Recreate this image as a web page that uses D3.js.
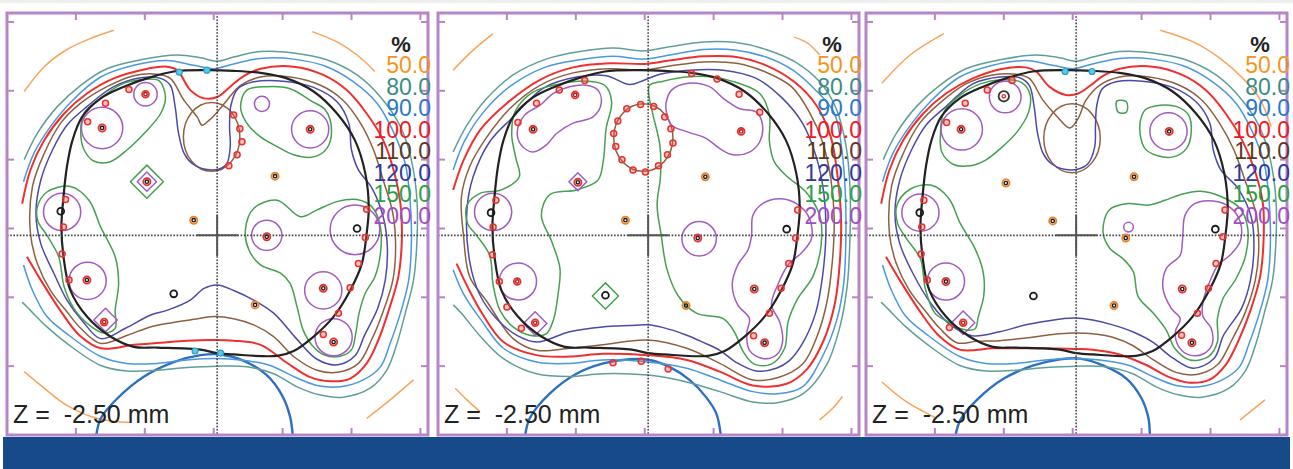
<!DOCTYPE html>
<html lang="en">
<head>
  <meta charset="UTF-8">
  <title>Isodose distributions, Z = -2.50 mm</title>
  <style>
    body { margin: 0; background: #fff; }
    svg { display: block; font-family: "Liberation Sans", Arial, sans-serif; }
    .c { fill: none; stroke-width: 1.5; stroke-linejoin: round; }
    .iso50 { stroke: #f7a55a; }
    .iso80 { stroke: #5f9f99; }
    .iso90 { stroke: #4a98de; }
    .iso100 { stroke: #ee3030; stroke-width: 2; }
    .iso110 { stroke: #8e6040; }
    .iso120 { stroke: #4c4aa6; }
    .iso150 { stroke: #45a050; }
    .iso200 { stroke: #a25cbf; }
    .target { stroke: #222; stroke-width: 2.2; }
    .rectum { stroke: #2d70c0; stroke-width: 2.4; }
    .frame { fill: none; stroke: #b884c8; stroke-width: 3; }
    .tick { stroke: #b884c8; stroke-width: 2; }
    .dotted { stroke: #444; stroke-width: 1.6; stroke-dasharray: 1.6 1.6; }
    .cross { stroke: #555; stroke-width: 2; }
    .ztext { font-size: 25px; fill: #222; white-space: pre; }
    .legend { font-size: 23px; text-anchor: end; }
  </style>
</head>
<body>
<svg id="chart" width="1293" height="469"></svg>

<script src="https://cdn.jsdelivr.net/npm/d3@7"></script>
<script>
// all coordinates in mm (ticks every 10 mm), y up
const xTicks = [-20, -10, 0, 10, 20, 30];
const yTicks = [30, 20, 10, 0, -10, -20];
const isocenter = [0.5, -1.0];
const levels = ["50.0", "80.0", "90.0", "100.0", "110.0", "120.0", "150.0", "200.0"];
const levelColors = ["#f7941d", "#3a8c84", "#2b78cc", "#ed1c24", "#5c3a1e", "#2e3a9e", "#2aa048", "#a04fc0"];
const sliceLabel = "Z =  -2.50 mm";

// target outline (same in all three plans)
const target = [[-5.8,22.8],[-1.0,23.0],[2.9,22.9],[6.8,22.6],[10.6,21.8],[14.5,19.9],[17.9,16.7],[20.5,12.8],[22.0,8.0],[22.5,3.1],[22.2,-0.7],[21.5,-5.1],[19.8,-9.0],[17.4,-12.8],[14.5,-15.7],[11.6,-17.8],[9.2,-18.5],[2.9,-18.3],[0.5,-18.1],[-1.9,-17.6],[-8.2,-17.3],[-11.6,-17.2],[-15.0,-15.7],[-18.4,-12.8],[-20.8,-9.0],[-21.8,-4.1],[-22.1,0.2],[-21.8,4.6],[-21.3,9.0],[-20.5,12.8],[-19.1,16.2],[-16.4,18.9],[-13.0,20.6],[-9.7,21.8]];

// ---------- plan 1 ----------
const p1Teal = [[-27.5,10.0],[-25.6,13.8],[-22.7,17.7],[-19.3,20.8],[-15.5,23.2],[-10.6,24.5],[-5.3,25.2],[-1.9,24.8],[0.5,24.3],[2.9,24.9],[6.8,25.7],[11.6,25.5],[16.4,24.5],[20.8,22.3],[24.2,19.1],[27.1,14.8],[28.7,9.9],[29.5,4.1],[29.5,-1.7],[29.0,-7.5],[27.8,-12.3],[26.6,-16.7],[25.1,-20.6],[22.7,-23.2],[18.8,-24.5],[15.5,-24.2],[12.1,-23.0],[8.7,-21.1],[4.8,-20.1],[0.5,-20.0],[-3.9,-20.2],[-8.2,-20.6],[-12.6,-20.7],[-16.4,-19.9],[-21.3,-16.7],[-24.2,-14.3],[-26.6,-11.9],[-27.8,-10.7]];
const p1Blue = [[-27.6,6.8],[-26.1,10.9],[-23.7,14.8],[-20.5,18.6],[-16.4,22.0],[-11.6,23.7],[-6.8,24.4],[-2.9,23.7],[0,23.2],[2.9,23.9],[6.8,24.7],[11.6,24.6],[16.4,23.5],[20.3,21.3],[23.7,18.2],[26.1,14.0],[27.8,9.4],[28.5,4.1],[28.7,-1.7],[28.3,-7.5],[27.1,-12.3],[25.6,-16.7],[24.2,-20.1],[21.7,-22.0],[18.4,-23.0],[15.0,-22.8],[11.6,-21.5],[8.2,-19.9],[3.9,-19.1],[0.5,-18.9],[-3.9,-19.1],[-8.2,-19.6],[-12.6,-19.6],[-16.4,-18.6],[-21.3,-15.3],[-24.2,-12.8],[-26.3,-9.0],[-27.6,-5.3]];
const p1Red = [[-27.8,3.6],[-26.6,8.5],[-24.6,12.8],[-21.7,16.7],[-18.4,19.6],[-14.5,21.8],[-10.1,23.1],[-6.8,23.5],[-5.3,23.0],[-3.4,20.1],[-1.4,18.9],[0.5,19.1],[2.4,20.6],[4.3,22.1],[6.8,23.2],[11.6,23.5],[15.9,22.3],[19.3,20.1],[22.2,16.7],[24.6,12.8],[26.1,8.5],[27.1,3.6],[27.3,-1.7],[26.8,-7.0],[25.4,-11.9],[23.9,-16.2],[22.2,-19.6],[19.8,-21.8],[16.9,-22.2],[14.0,-21.6],[10.6,-19.5],[6.8,-16.9],[2.9,-16.3],[0,-16.2],[-3.9,-16.3],[-7.7,-16.6],[-11.6,-16.9],[-16.4,-17.4],[-19.5,-15.5],[-22.2,-12.0],[-25.1,-7.5],[-27.1,-4.1]];
const p1Brown = [[-26.3,6.1],[-24.6,10.9],[-22.2,15.3],[-19.3,18.2],[-15.5,20.6],[-11.6,22.2],[-8.2,22.4],[-6.3,21.8],[-4.3,18.6],[-2.4,16.2],[-1.7,15.0],[-0.7,15.7],[0.5,16.9],[1.9,18.6],[3.9,20.8],[6.8,22.0],[11.1,22.0],[15.5,20.8],[18.8,18.6],[21.3,15.3],[23.2,11.4],[24.6,7.0],[26.0,2.2],[26.4,-2.7],[26.0,-7.5],[24.5,-12.3],[22.9,-16.2],[21.0,-19.6],[18.0,-20.9],[15.0,-20.6],[11.6,-18.6],[8.7,-15.7],[5.8,-14.0],[2.9,-13.1],[0,-12.8],[-2.9,-13.2],[-6.8,-13.8],[-9.2,-14.3],[-12.5,-15.5],[-16.4,-16.7],[-19.3,-14.5],[-21.3,-12.1],[-23.7,-9.0],[-25.6,-5.1],[-26.6,-0.7]];
const p1Indigo = [[-25.8,2.2],[-25.1,7.0],[-23.4,11.4],[-21.3,15.0],[-18.4,17.7],[-14.5,20.6],[-10.6,21.9],[-7.7,21.8],[-6.3,20.8],[-5.6,17.7],[-5.1,13.8],[-4.3,10.9],[-3.1,9.4],[-1.2,8.6],[0.7,8.6],[1.9,9.4],[2.4,11.9],[2.3,14.8],[2.5,17.9],[3.5,20.3],[5.8,21.3],[10.1,21.4],[14.5,20.5],[17.9,18.4],[19.6,15.3],[20.0,11.4],[21.0,8.5],[23.0,5.8],[24.6,1.7],[25.2,-2.7],[24.9,-7.5],[23.8,-11.6],[21.9,-15.5],[20.5,-18.5],[18.0,-19.8],[15.0,-19.0],[12.0,-16.0],[8.7,-12.3],[5.8,-10.4],[2.9,-9.0],[0.5,-8.2],[-1.4,-8.7],[-3.4,-10.4],[-6.8,-11.9],[-9.2,-12.6],[-12.8,-14.5],[-16.4,-16.0],[-19.0,-13.5],[-21.3,-10.4],[-23.2,-6.5],[-25.1,-2.2]];
const p1Green = [
  [[-19.3,13.8],[-18.8,16.8],[-16.4,18.9],[-13.5,20.9],[-10.6,21.6],[-8.0,21.5],[-7.0,19.1],[-7.7,16.7],[-10.1,13.8],[-12.6,11.4],[-15.0,9.7],[-17.4,9.8],[-18.8,11.4]],
  [[3.9,17.7],[4.8,20.1],[7.7,20.6],[11.1,20.3],[14.0,18.6],[16.2,17.2],[17.1,14.3],[16.4,11.6],[14.5,10.4],[11.6,10.7],[9.2,11.9],[6.8,13.3],[4.8,15.3]],
  [[-25.6,3.1],[-24.2,5.3],[-20.8,6.1],[-18.1,4.1],[-16.4,0.2],[-14.3,-4.1],[-13.8,-8.0],[-14.3,-11.9],[-14.3,-14.5],[-15.9,-15.2],[-18.1,-14.0],[-20.3,-11.6],[-21.7,-8.5],[-22.5,-4.1],[-24.2,-1.0],[-25.5,1.0]],
  [[4.6,-0.2],[5.8,2.9],[9.2,4.1],[12.6,1.7],[15.0,2.7],[17.9,3.9],[20.8,4.2],[23.0,3.1],[24.2,0.2],[24.2,-3.6],[23.4,-7.0],[22.0,-9.4],[21.1,-12.3],[20.6,-15.3],[20.0,-17.6],[18.2,-18.6],[15.9,-18.3],[14.3,-17.0],[13.0,-14.8],[12.1,-11.4],[11.1,-8.0],[9.7,-6.5],[6.8,-5.3],[5.1,-3.1]]
];
const p1GreenDiamonds = [[-9.7,6.8,2.4]];
const p1Purple = [];
const p1PurpleRings = [[-9.9,19.5,1.7],[-16.2,14.6,3.0],[7.0,18.1,1.1],[14.0,14.4,2.7],[-22.0,2.4,2.7],[7.7,-1.0,2.2],[20.5,-0.2,3.6],[-18.3,-7.6,2.7],[15.9,-9.0,2.7],[17.4,-15.8,2.7]];
const p1PurpleDiamonds = [[-9.7,6.8,1.4],[-15.7,-13.3,1.7]];
const p1Urethra = [-0.3, 13.3, 4.1, 5.0];
const p1Orange = [
  [[-27.5,19.9],[-24.6,23.5],[-21.3,26.0],[-17.9,27.6],[-14.5,28.8]],
  [[14.3,28.6],[17.9,27.1],[20.8,25.2],[23.4,22.8]],
  [[-27.5,-20.8],[-24.6,-23.2],[-21.3,-25.7],[-16.9,-27.6],[-12.1,-28.2]],
  [[22.2,-27.6],[25.6,-24.9],[29.0,-22.0]]
];
const p1Rectum = [[-17.1,-30.5],[-16.4,-27.6],[-14.0,-24.7],[-10.1,-21.5],[-5.8,-19.4],[-1.9,-18.4],[1.0,-18.3],[4.3,-19.2],[7.7,-21.3],[9.9,-24.2],[11.1,-27.4],[11.5,-30.5]];
const p1Seeds = [[-9.9,19.5,"r"],[-16.2,14.6,"kr"],[14.0,14.4,"kr"],[-9.7,6.8,"kr"],[8.9,7.6,"ok"],[-2.9,1.2,"ok"],[-22.2,2.5,"k"],[7.7,-1.2,"kr"],[20.8,0,"k"],[-18.4,-7.5,"kr"],[-5.8,-9.5,"k"],[6.0,-11.1,"ok"],[15.9,-8.7,"kr"],[-15.9,-13.6,"r"],[17.4,-16.5,"kr"]];
const p1Dots = [[-12.3,20.2],[-15.7,18.2],[-18.3,15.5],[-21.5,4.2],[-21.8,0.2],[-22.0,-3.7],[-21.0,-7.5],[22.2,2.8],[22.0,-1.3],[21.0,-5.1],[19.8,-8.6],[18.1,-12.3],[15.9,-15.4],[2.9,16.5],[3.8,14.5],[4.1,12.6],[3.4,10.7],[2.2,9.1]];
const p1Cyan = [[-5.0,22.7],[-1.0,23.0],[-2.7,-17.8],[1.0,-18.1]];

// ---------- plan 2 ----------
const p2Teal = [[-27.8,11.1],[-25.8,15.0],[-22.9,18.9],[-19.1,22.3],[-14.3,24.6],[-9.4,25.7],[-4.6,26.2],[-0.2,25.8],[3.6,26.4],[8.5,27.1],[13.3,27.0],[17.6,26.0],[22.0,24.1],[25.4,21.3],[27.8,17.4],[29.2,12.1],[29.8,5.8],[29.8,-1.0],[29.4,-8.2],[28.4,-14.0],[26.4,-19.8],[23.0,-24.0],[19.3,-25.3],[15.7,-25.2],[10.9,-23.7],[6.1,-22.3],[0.4,-21.3],[-6.1,-21.1],[-10.9,-21.5],[-15.7,-21.1],[-20.5,-18.9],[-24.0,-15.5],[-26.6,-12.3],[-27.8,-11.1]];
const p2Blue = [[-27.8,8.5],[-26.1,12.8],[-23.4,16.9],[-19.6,20.6],[-14.5,23.4],[-9.4,24.5],[-4.6,25.0],[-0.2,24.6],[3.6,25.2],[8.5,26.0],[13.3,25.9],[17.6,24.9],[21.5,23.0],[24.6,20.3],[27.5,16.8],[28.6,11.5],[29.1,5.5],[29.2,-1.0],[28.9,-7.8],[27.9,-13.2],[25.8,-18.6],[22.9,-23.0],[19.3,-24.0],[15.7,-23.7],[10.9,-22.0],[6.1,-20.3],[0.4,-19.4],[-6.1,-19.1],[-10.9,-19.6],[-15.7,-19.4],[-20.5,-17.4],[-23.6,-13.5],[-26.3,-9.5],[-27.8,-6.0]];
const p2Red = [[-27.8,5.6],[-26.3,9.9],[-23.9,14.3],[-20.0,18.2],[-15.2,21.6],[-10.4,23.4],[-5.1,24.0],[0,23.9],[3.6,24.4],[8.5,25.0],[13.3,24.9],[17.6,23.7],[21.7,21.3],[24.9,17.9],[27.0,13.3],[28.0,7.5],[28.5,1.2],[28.3,-5.1],[27.6,-10.9],[26.0,-16.2],[23.5,-20.5],[20.5,-22.6],[15.7,-22.8],[10.9,-20.8],[6.1,-19.1],[0.4,-18.4],[-6.1,-18.2],[-10.9,-18.6],[-15.7,-18.4],[-20.5,-16.5],[-23.5,-12.5],[-25.6,-8.7],[-27.3,-5.1]];
const p2Brown = [[-26.6,4.6],[-25.4,9.0],[-22.9,13.3],[-19.6,17.4],[-15.2,20.8],[-10.4,22.6],[-5.1,23.2],[0,23.0],[3.6,23.6],[8.5,24.2],[13.3,24.0],[17.6,22.7],[21.3,20.6],[23.9,16.9],[25.8,12.6],[27.0,7.3],[27.5,1.5],[27.2,-5.1],[26.4,-10.9],[25.0,-15.7],[23.0,-19.6],[19.5,-21.6],[15.7,-22.0],[10.9,-19.6],[6.1,-17.4],[0.4,-16.2],[-6.1,-16.9],[-10.9,-17.4],[-15.7,-17.7],[-19.1,-16.0],[-22.9,-10.6],[-25.4,-7.0],[-26.3,-1.0]];
const p2Indigo = [[-25.8,2.7],[-24.9,7.5],[-22.5,12.6],[-19.1,16.2],[-14.7,20.4],[-9.9,22.0],[-5.6,22.2],[-2.2,20.9],[-0.2,21.5],[2.2,22.4],[6.5,23.0],[11.4,23.0],[16.2,21.8],[20.0,18.9],[22.9,15.3],[24.9,10.4],[26.0,5.1],[26.3,-0.5],[25.8,-7.0],[24.8,-12.3],[22.9,-16.7],[21.0,-19.2],[19.1,-20.3],[16.2,-20.7],[13.2,-19.4],[10.9,-17.7],[8.4,-16.5],[6.1,-15.5],[2.7,-14.4],[0.4,-14.0],[-2.2,-14.1],[-6.1,-14.3],[-10.9,-15.0],[-15.7,-16.5],[-18.6,-15.5],[-21.5,-13.1],[-23.9,-9.7],[-25.4,-4.8]];
const p2Green = [
  [[-25.8,3.4],[-23.9,5.1],[-20.8,5.6],[-18.2,7.5],[-18.7,10.2],[-19.3,13.6],[-18.8,17.0],[-16.2,19.8],[-12.3,21.0],[-8.5,21.4],[-5.8,20.8],[-4.8,18.4],[-5.6,14.5],[-6.0,9.9],[-6.8,7.0],[-9.9,5.6],[-13.8,4.9],[-15.0,1.9],[-13.5,-1.9],[-12.3,-5.8],[-12.6,-9.7],[-13.2,-13.1],[-14.3,-15.3],[-16.7,-15.5],[-19.1,-14.3],[-21.0,-11.9],[-22.0,-8.2],[-22.5,-3.9],[-24.4,-1.0],[-25.7,0.7]],
  [[0.7,20.8],[2.7,21.4],[6.0,22.0],[9.9,22.0],[13.3,21.2],[16.7,19.6],[18.1,16.5],[18.1,12.6],[18.8,9.7],[20.5,7.7],[23.4,5.3],[25.4,1.9],[25.6,-2.4],[24.4,-7.0],[22.2,-10.2],[20.8,-13.6],[20.3,-17.4],[18.4,-19.7],[15.9,-19.7],[14.3,-17.9],[13.0,-15.0],[11.4,-13.1],[7.5,-12.3],[4.8,-9.7],[3.2,-5.8],[2.4,-1.0],[1.8,3.4],[2.3,7.7],[2.2,12.1],[1.2,16.5],[0.6,19.4]]
];
const p2GreenDiamonds = [[-5.7,-9.8,1.9]];
const p2Purple = [
  [[-18.5,14.0],[-17.4,16.5],[-15.2,17.9],[-13.3,19.6],[-10.9,20.6],[-8.5,20.8],[-6.8,20.1],[-6.3,18.2],[-7.5,16.2],[-10.4,15.3],[-12.8,13.8],[-14.3,12.1],[-16.2,11.1],[-17.9,12.1]],
  [[3.1,18.2],[3.9,20.1],[6.3,21.1],[9.4,20.6],[11.4,18.9],[13.8,17.4],[16.2,16.9],[17.1,15.0],[16.7,12.6],[15.2,11.1],[12.8,10.7],[10.9,11.6],[8.9,13.1],[6.3,14.0],[3.9,15.0],[3.2,16.7]],
  [[15.5,-1.0],[15.7,1.9],[17.1,3.6],[19.6,4.3],[22.0,3.6],[23.9,1.5],[24.2,-1.5],[22.9,-3.4],[20.8,-5.3],[19.3,-8.2],[18.4,-11.1],[19.6,-13.6],[20.0,-16.5],[19.1,-18.4],[17.1,-18.9],[15.2,-17.7],[14.8,-15.3],[15.2,-13.1],[13.5,-11.1],[12.7,-8.2],[13.5,-5.3],[15.0,-3.1]]
];
const p2PurpleRings = [[-22.0,2.4,2.7],[7.9,-1.5,2.5],[-18.4,-7.7,2.7]];
const p2PurpleDiamonds = [[-9.7,6.8,1.3],[-15.9,-13.8,1.7]];
const p2Urethra = [-0.2, 13.2, 4.3, 4.9];
const p2Orange = [
  [[-27.8,23.0],[-24.9,25.9],[-22.0,28.3]],
  [[21.7,27.8],[23.7,26.9],[25.4,25.2]],
  [[-27.5,-23.2],[-25.8,-24.9],[-23.9,-26.6]],
  [[25.4,-27.8],[27.2,-26.2],[28.7,-24.4]]
];
const p2Rectum = [[-17.4,-30.5],[-16.7,-27.6],[-13.8,-24.0],[-9.9,-21.1],[-6.0,-19.6],[-2.2,-19.0],[0.7,-19.1],[3.6,-20.1],[6.5,-22.0],[8.9,-24.5],[10.4,-26.9],[11.1,-30.5]];
const p2Seeds = [[-10.1,19.4,"r"],[-16.2,14.4,"kr"],[14.0,14.1,"r"],[-9.7,6.7,"kr"],[8.8,7.5,"ok"],[-2.8,1.2,"ok"],[-22.3,2.3,"k"],[7.7,-1.4,"kr"],[20.6,-0.1,"k"],[-18.5,-7.7,"r"],[-5.7,-9.7,"k"],[6.0,-11.2,"ok"],[15.9,-8.8,"kr"],[-15.9,-13.7,"r"],[17.4,-16.6,"kr"]];
const p2Dots = [[-8.7,21.5],[-12.4,20.1],[-15.7,18.2],[-18.4,15.4],[-21.6,4.1],[-22.0,0.2],[-22.1,-3.8],[-21.1,-7.7],[-20.0,-11.4],[-17.9,-14.5],[6.8,22.5],[10.5,21.7],[13.7,19.5],[16.7,16.9],[22.2,2.7],[21.9,-1.4],[20.9,-5.1],[19.8,-8.7],[18.1,-12.3],[15.8,-15.6],[-4.6,-19.5],[-0.5,-19.3],[3.4,-20.4],
  [-2.6,17.4],[-0.6,18.0],[1.3,17.7],[2.9,16.2],[3.8,14.5],[4.1,12.4],[3.3,10.7],[2.0,9.1],[0.1,8.2],[-1.7,8.5],[-3.3,10.0],[-4.2,11.9],[-4.5,13.8],[-3.9,15.6]];
const p2Cyan = [];

// ---------- plan 3 ----------
const p3Red = [[-27.8,3.6],[-26.6,8.5],[-24.6,12.8],[-21.7,16.7],[-18.4,19.6],[-14.5,21.8],[-10.1,23.2],[-6.8,23.4],[-5.3,22.8],[-3.4,20.6],[-1.0,19.4],[0.8,19.6],[2.6,20.8],[4.3,22.1],[6.8,23.2],[11.6,23.5],[15.9,22.3],[19.3,20.1],[22.2,16.7],[24.6,12.8],[26.4,8.5],[27.6,3.6],[27.7,-1.7],[27.2,-7.0],[25.8,-11.9],[24.1,-16.2],[22.2,-19.8],[19.8,-22.0],[16.9,-22.4],[14.0,-21.6],[10.6,-19.8],[6.8,-18.3],[2.9,-17.6],[0,-17.5],[-3.9,-17.4],[-7.7,-17.4],[-11.6,-17.4],[-16.4,-17.6],[-19.5,-15.5],[-22.2,-12.0],[-25.1,-7.5],[-27.1,-4.1]];
const p3Brown = [[-26.3,6.1],[-24.6,10.9],[-22.2,15.3],[-19.3,18.2],[-15.5,21.0],[-11.6,22.3],[-8.2,22.4],[-6.3,21.8],[-4.3,18.6],[-2.4,16.4],[-0.4,14.6],[0.8,16.0],[1.9,18.6],[3.9,20.8],[6.8,22.0],[11.1,22.0],[15.5,20.8],[18.8,18.6],[21.3,15.3],[23.4,11.4],[25.0,7.0],[26.6,2.2],[27.0,-2.7],[26.5,-7.5],[25.0,-12.3],[23.1,-16.2],[21.0,-19.8],[18.0,-21.2],[15.0,-20.9],[11.6,-19.0],[8.7,-17.0],[5.8,-15.8],[2.9,-15.3],[0,-15.2],[-2.9,-15.4],[-6.8,-15.9],[-10.6,-16.3],[-14.0,-16.4],[-16.8,-16.6],[-19.3,-14.5],[-21.3,-12.1],[-23.7,-9.0],[-25.6,-5.1],[-26.6,-0.7]];
const p3Indigo = [[-25.8,2.2],[-25.1,7.0],[-23.4,11.4],[-21.3,15.0],[-18.4,17.7],[-14.5,21.0],[-10.6,22.0],[-7.7,21.9],[-6.3,20.8],[-5.6,17.7],[-5.1,13.8],[-4.3,10.9],[-3.1,9.4],[-1.2,8.6],[0.7,8.6],[2.2,9.4],[3.2,11.9],[3.3,14.8],[3.5,17.9],[4.3,20.3],[6.3,21.3],[10.1,21.4],[14.5,20.5],[17.9,18.4],[19.9,15.3],[20.4,11.4],[21.5,8.5],[24.0,5.8],[25.9,1.7],[26.3,-2.7],[25.8,-7.5],[24.5,-11.6],[21.9,-15.5],[20.5,-18.9],[17.5,-20.3],[14.5,-18.8],[11.6,-16.5],[8.7,-15.0],[5.8,-14.0],[2.9,-13.3],[0.3,-13.0],[-1.4,-13.1],[-3.4,-13.4],[-6.8,-14.0],[-10.6,-15.0],[-14.5,-15.6],[-17.5,-14.2],[-20.5,-11.0],[-23.2,-6.5],[-25.1,-2.2]];
const p3Green = [
  [[-19.0,11.1],[-19.2,13.6],[-18.7,16.9],[-16.3,19.4],[-13.4,21.0],[-10.5,21.6],[-7.4,21.2],[-6.2,19.5],[-6.4,16.9],[-8.1,14.0],[-10.5,11.6],[-12.7,9.9],[-14.9,9.1],[-17.3,9.3]],
  [[6.4,18.5],[7.8,18.4],[7.8,16.9],[6.6,16.9]],
  [[9.8,15.5],[10.5,17.2],[12.7,17.9],[15.1,17.7],[16.8,16.5],[17.2,14.0],[16.5,11.6],[14.6,10.4],[12.2,10.6],[10.5,11.6],[9.8,13.6]],
  [[-25.5,3.4],[-23.6,5.7],[-20.6,6.3],[-18.0,4.4],[-16.3,0.7],[-14.2,-2.9],[-13.0,-6.3],[-12.9,-9.7],[-13.7,-12.8],[-14.2,-14.6],[-16.1,-14.6],[-18.0,-13.6],[-20.0,-12.3],[-21.4,-8.7],[-22.1,-4.4],[-24.1,-1.5],[-25.4,0.7]],
  [[4.4,-0.5],[5.3,2.7],[7.8,3.6],[11.0,3.4],[13.4,4.1],[15.6,4.9],[18.5,5.4],[21.6,4.6],[24.3,2.9],[25.4,0],[25.1,-3.9],[23.7,-7.3],[21.8,-10.2],[21.0,-13.1],[21.0,-16.5],[19.7,-18.6],[17.0,-19.1],[14.8,-17.4],[13.6,-14.8],[11.7,-12.3],[9.5,-9.9],[8.8,-6.3],[7.3,-4.4],[5.4,-2.9]]
];
const p3GreenDiamonds = [];
const p3Purple = [
  [[16.0,-0.5],[16.3,1.9],[17.7,3.6],[20.4,4.0],[22.8,3.1],[24.3,1.0],[24.3,-1.9],[22.8,-3.9],[21.1,-5.3],[19.9,-7.7],[18.9,-10.7],[18.9,-12.8],[20.1,-14.5],[20.2,-16.9],[19.0,-18.2],[17.0,-18.4],[15.4,-17.2],[14.9,-15.0],[15.6,-13.1],[14.3,-11.6],[13.1,-8.7],[13.6,-5.8],[15.6,-3.9],[15.9,-2.2]]
];
const p3PurpleRings = [[-16.1,14.4,3.0],[-9.8,19.1,2.3],[13.9,14.1,2.7],[-22.1,2.3,2.7],[-18.4,-7.7,2.7],[8.1,0.2,0.7]];
const p3PurpleDiamonds = [[-15.9,-13.7,1.7]];
const p3Urethra = [-0.1, 13.1, 4.1, 5.0];
const p3Orange = [
  [[-27.7,21.1],[-23.6,25.2],[-18.7,28.3]],
  [[12.7,28.8],[17.5,27.1],[21.4,24.7],[24.7,21.8],[27.1,18.9],[28.8,14.8]],
  [[-27.7,-22.3],[-24.1,-25.2],[-19.7,-27.6]],
  [[24.3,-27.8],[27.9,-24.9]]
];
const p3Rectum = [[-17.1,-30.5],[-16.3,-27.8],[-13.9,-24.9],[-10.0,-21.8],[-5.7,-19.9],[-1.8,-19.0],[1.1,-18.9],[4.4,-19.9],[7.8,-21.8],[10.0,-24.7],[11.0,-27.6],[11.2,-30.5]];
const p3Seeds = [[-10.0,19.2,"big"],[-16.2,14.4,"kr"],[14.0,14.1,"kr"],[-9.7,6.6,"ok"],[8.9,7.5,"ok"],[-2.9,1.1,"ok"],[-22.2,2.3,"k"],[7.7,-1.4,"ok"],[20.7,-0.1,"k"],[-18.4,-7.7,"kr"],[-5.7,-9.8,"k"],[6.0,-11.2,"ok"],[15.9,-8.8,"kr"],[-15.9,-13.7,"r"],[17.3,-16.6,"kr"]];
const p3Dots = [[-8.8,21.5],[-12.4,20.1],[-15.6,18.2],[-18.3,15.4],[-21.6,4.1],[-21.9,0.2],[-22.0,-3.7],[-21.1,-7.5],[-17.9,-14.4],[22.1,2.7],[21.8,-1.2],[20.8,-5.1],[19.7,-8.7],[18.1,-12.3],[15.8,-15.5]];
const p3Cyan = [[-1.1,22.8],[2.8,22.8]];

// table of the three plans
const plans = [
  { left: 7,   teal: p1Teal, blue: p1Blue, red: p1Red, brown: p1Brown, indigo: p1Indigo, green: p1Green, greenD: p1GreenDiamonds, purple: p1Purple, purpleR: p1PurpleRings, purpleD: p1PurpleDiamonds, urethra: p1Urethra, orange: p1Orange, rectum: p1Rectum, seeds: p1Seeds, dots: p1Dots, cyan: p1Cyan },
  { left: 438, teal: p2Teal, blue: p2Blue, red: p2Red, brown: p2Brown, indigo: p2Indigo, green: p2Green, greenD: p2GreenDiamonds, purple: p2Purple, purpleR: p2PurpleRings, purpleD: p2PurpleDiamonds, urethra: p2Urethra, orange: p2Orange, rectum: p2Rectum, seeds: p2Seeds, dots: p2Dots, cyan: p2Cyan },
  { left: 866, teal: p1Teal, blue: p1Blue, red: p3Red, brown: p3Brown, indigo: p3Indigo, green: p3Green, greenD: p3GreenDiamonds, purple: p3Purple, purpleR: p3PurpleRings, purpleD: p3PurpleDiamonds, urethra: p3Urethra, orange: p3Orange, rectum: p3Rectum, seeds: p3Seeds, dots: p3Dots, cyan: p3Cyan }
];

const W = 421, H = 422, top0 = 13;
const svg = d3.select("#chart");

svg.append("rect").attr("x", 0).attr("y", 0).attr("width", 1293).attr("height", 3).attr("fill", "#efefef");
svg.append("rect").attr("x", 3).attr("y", 437).attr("width", 1287).attr("height", 32).attr("fill", "#164a89");

const x = d3.scaleLinear().domain([-30.0, 31.1]).range([0, W]);
const y = d3.scaleLinear().domain([31.3, -30.0]).range([0, H]);

const openLine = d3.line().x(d => x(d[0])).y(d => y(d[1])).curve(d3.curveCatmullRom.alpha(0.5));
const closedLine = d3.line().x(d => x(d[0])).y(d => y(d[1])).curve(d3.curveCatmullRomClosed.alpha(0.5));
const polyLine = d3.line().x(d => x(d[0])).y(d => y(d[1])).curve(d3.curveLinearClosed);

function diamond(d) {
  const [cx, cy, r] = d;
  return polyLine([[cx - r, cy], [cx, cy + r], [cx + r, cy], [cx, cy - r]]);
}

const seedStyle = {
  r:   { outer: "#e8302c", inner: "#b32020", ro: 3.4 },
  k:   { outer: "#1a1a1a", inner: null, ro: 3.4 },
  kr:  { outer: "#e8302c", inner: "#1a1a1a", ro: 3.6 },
  ok:  { outer: "#f08020", inner: "#1a1a1a", ro: 3.6 },
  big: { outer: "#333", inner: "#e8302c", ro: 5.2 }
};

plans.forEach((p, i) => {
  const g = svg.append("g").attr("transform", `translate(${p.left},${top0})`);
  g.append("clipPath").attr("id", "clip" + i)
    .append("rect").attr("width", W).attr("height", H);
  g.append("rect").attr("width", W).attr("height", H).attr("fill", "#fff");

  const c = g.append("g").attr("clip-path", `url(#clip${i})`);

  c.selectAll(".o50").data(p.orange).join("path").attr("class", "c iso50").attr("d", openLine);
  c.append("path").attr("class", "c rectum").attr("d", openLine(p.rectum));
  c.append("path").attr("class", "c iso80").attr("d", openLine(p.teal));
  c.append("path").attr("class", "c iso90").attr("d", openLine(p.blue));
  c.append("path").attr("class", "c iso100").attr("d", openLine(p.red));
  c.append("path").attr("class", "c iso110").attr("d", closedLine(p.brown));
  c.append("ellipse").attr("class", "c iso110")
    .attr("cx", x(p.urethra[0])).attr("cy", y(p.urethra[1]))
    .attr("rx", x(p.urethra[2]) - x(0)).attr("ry", y(0) - y(p.urethra[3]));
  c.append("path").attr("class", "c iso120").attr("d", closedLine(p.indigo));

  c.selectAll(".g150").data(p.green).join("path").attr("class", "c iso150").attr("d", closedLine);
  c.selectAll(".d150").data(p.greenD).join("path").attr("class", "c iso150").attr("d", diamond);
  c.selectAll(".p200").data(p.purple).join("path").attr("class", "c iso200").attr("d", closedLine);
  c.selectAll(".r200").data(p.purpleR).join("circle").attr("class", "c iso200")
    .attr("cx", d => x(d[0])).attr("cy", d => y(d[1])).attr("r", d => x(d[2]) - x(0));
  c.selectAll(".pd200").data(p.purpleD).join("path").attr("class", "c iso200").attr("d", diamond);

  c.append("path").attr("class", "c target").attr("d", closedLine(target));

  // isocenter crosshair
  c.append("line").attr("class", "dotted").attr("x1", 0).attr("x2", W).attr("y1", y(isocenter[1])).attr("y2", y(isocenter[1]));
  c.append("line").attr("class", "dotted").attr("y1", 0).attr("y2", H).attr("x1", x(isocenter[0])).attr("x2", x(isocenter[0]));
  c.append("line").attr("class", "cross").attr("x1", x(isocenter[0] - 3)).attr("x2", x(isocenter[0] + 3)).attr("y1", y(isocenter[1])).attr("y2", y(isocenter[1]));
  c.append("line").attr("class", "cross").attr("y1", y(isocenter[1] + 3)).attr("y2", y(isocenter[1] - 3)).attr("x1", x(isocenter[0])).attr("x2", x(isocenter[0]));

  // needle / catheter markers
  c.selectAll(".dot").data(p.dots).join("circle")
    .attr("cx", d => x(d[0])).attr("cy", d => y(d[1])).attr("r", 3)
    .attr("fill", "rgba(240,90,90,0.35)").attr("stroke", "#e8322d").attr("stroke-width", 1.5);
  c.selectAll(".cy").data(p.cyan).join("circle")
    .attr("cx", d => x(d[0])).attr("cy", d => y(d[1])).attr("r", 3)
    .attr("fill", "#5cc8e6").attr("stroke", "#2aa0c8").attr("stroke-width", 1.2);

  // seeds
  const s = c.selectAll(".seed").data(p.seeds).join("g")
    .attr("transform", d => `translate(${x(d[0])},${y(d[1])})`);
  s.append("circle").attr("r", d => seedStyle[d[2]].ro).attr("fill", "none")
    .attr("stroke", d => seedStyle[d[2]].outer).attr("stroke-width", 1.8);
  s.filter(d => seedStyle[d[2]].inner).append("circle").attr("r", 1.7).attr("fill", "none")
    .attr("stroke", d => seedStyle[d[2]].inner).attr("stroke-width", 1.4);

  c.append("text").attr("class", "ztext").attr("x", 6).attr("y", 410).text(sliceLabel);

  // frame and ticks
  g.append("rect").attr("class", "frame").attr("width", W).attr("height", H);
  g.selectAll(".tx").data(xTicks).join("g").each(function (t) {
    const gg = d3.select(this);
    gg.append("line").attr("class", "tick").attr("x1", x(t)).attr("x2", x(t)).attr("y1", 0).attr("y2", 7);
    gg.append("line").attr("class", "tick").attr("x1", x(t)).attr("x2", x(t)).attr("y1", H - 7).attr("y2", H);
  });
  g.selectAll(".ty").data(yTicks).join("g").each(function (t) {
    const gg = d3.select(this);
    gg.append("line").attr("class", "tick").attr("y1", y(t)).attr("y2", y(t)).attr("x1", 0).attr("x2", 7);
    gg.append("line").attr("class", "tick").attr("y1", y(t)).attr("y2", y(t)).attr("x1", W - 7).attr("x2", W);
  });

  // legend (drawn over the frame, as in the reference)
  const lg = g.append("g");
  lg.append("text").attr("x", W - 27).attr("y", 39).attr("text-anchor", "middle")
    .attr("font-size", 22).attr("font-weight", "bold").attr("fill", "#222").text("%");
  lg.selectAll(".lv").data(levels).join("text").attr("class", "legend")
    .attr("x", W + 3).attr("y", (d, k) => 60 + k * 21.5)
    .attr("fill", (d, k) => levelColors[k]).text(d => d);
});
</script>
</body>
</html>
